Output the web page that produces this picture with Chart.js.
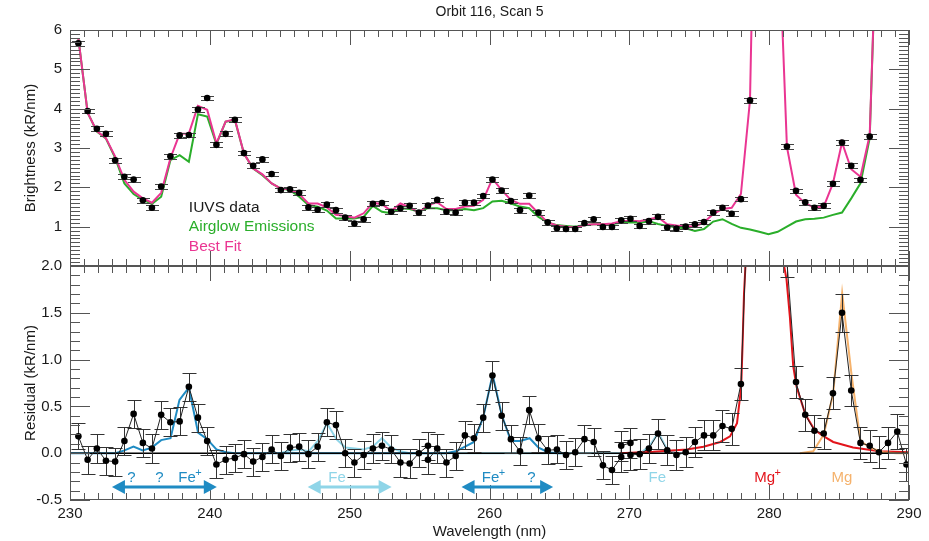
<!DOCTYPE html>
<html>
<head>
<meta charset="utf-8">
<title>Orbit 116, Scan 5</title>
<script src="https://cdn.jsdelivr.net/npm/chart.js@4/dist/chart.umd.min.js"></script>
<style>
  html, body { margin: 0; padding: 0; background: #fff; }
  #wrap { position: relative; width: 929px; height: 541px; }
  #wrap canvas { position: absolute; left: 0; top: 0; }
</style>
</head>
<body>
<div id="wrap">
  <canvas id="residualPanel" width="929" height="541"></canvas>
  <canvas id="brightnessPanel" width="929" height="541"></canvas>
</div>
<script>
// ---------------- data ----------------
// centre wavelength of each spectral bin (nm)
const wavelength = [
  230.60, 231.26, 231.92, 232.57, 233.23, 233.89, 234.55, 235.21, 235.86, 236.52,
  237.18, 237.84, 238.50, 239.15, 239.81, 240.47, 241.13, 241.79, 242.44, 243.10,
  243.76, 244.42, 245.08, 245.73, 246.39, 247.05, 247.71, 248.37, 249.02, 249.68,
  250.34, 251.00, 251.66, 252.31, 252.97, 253.63, 254.29, 254.95, 255.60, 256.26,
  256.92, 257.58, 258.24, 258.89, 259.55, 260.21, 260.87, 261.53, 262.18, 262.84,
  263.50, 264.16, 264.82, 265.47, 266.13, 266.79, 267.45, 268.11, 268.76, 269.42,
  270.08, 270.74, 271.40, 272.05, 272.71, 273.37, 274.03, 274.69, 275.34, 276.00,
  276.66, 277.32, 277.98, 278.63, 279.29, 279.95, 280.61, 281.27, 281.92, 282.58,
  283.24, 283.90, 284.56, 285.21, 285.87, 286.53, 287.19, 287.85, 288.50, 289.16,
  289.82
];

// IUVS brightness per bin (kR/nm); null where the point is above the plotted range
const brightness = [
  5.66, 3.94, 3.49, 3.36, 2.69, 2.27, 2.20, 1.67, 1.48, 2.02,
  2.79, 3.32, 3.33, 3.98, 4.27, 3.08, 3.36, 3.72, 2.87, 2.55,
  2.71, 2.34, 1.93, 1.95, 1.86, 1.49, 1.43, 1.56, 1.42, 1.23,
  1.08, 1.19, 1.58, 1.60, 1.38, 1.47, 1.53, 1.36, 1.54, 1.68,
  1.38, 1.36, 1.61, 1.61, 1.78, 2.20, 1.92, 1.65, 1.42, 1.79,
  1.36, 1.11, 0.96, 0.94, 0.94, 1.09, 1.19, 0.99, 0.99, 1.16,
  1.20, 1.02, 1.14, 1.25, 0.98, 0.95, 1.00, 1.06, 1.12, 1.36,
  1.48, 1.33, 1.70, 4.21, null, null, null, 3.04, 1.91, 1.62,
  1.48, 1.53, 2.09, 3.14, 2.55, 2.19, 3.29, null, null, null,
  null
];
const brightnessErr = 0.06;

// modelled airglow emissions (kR/nm), same bins
const airglow = [
  5.79, 3.90, 3.42, 3.24, 2.75, 2.10, 1.83, 1.68, 1.58, 1.76,
  2.69, 2.82, 2.65, 3.86, 3.80, 3.10, 3.67, 3.71, 2.86, 2.48,
  2.31, 2.10, 1.97, 1.93, 1.76, 1.55, 1.51, 1.41, 1.21, 1.21,
  1.21, 1.25, 1.53, 1.38, 1.34, 1.47, 1.45, 1.38, 1.47, 1.47,
  1.42, 1.42, 1.45, 1.42, 1.47, 1.64, 1.66, 1.59, 1.51, 1.47,
  1.25, 1.11, 1.04, 1.02, 1.00, 1.04, 1.06, 1.06, 1.07, 1.10,
  1.11, 1.10, 1.14, 1.07, 1.02, 0.98, 0.96, 0.89, 0.94, 1.13,
  1.19, 1.07, 0.97, 0.93, 0.87, 0.81, 0.87, 1.00, 1.13, 1.19,
  1.20, 1.23, 1.30, 1.36, 1.72, 2.10, 3.25, 10.5, 18.0
];

// best fit: airglow plus metal emission lines (kR/nm)
const bestFit = [
  5.79, 3.90, 3.43, 3.25, 2.78, 2.19, 1.89, 1.72, 1.61, 1.86,
  2.74, 3.36, 3.37, 4.07, 3.97, 3.12, 3.67, 3.73, 2.86, 2.48,
  2.33, 2.10, 1.97, 1.95, 1.83, 1.59, 1.59, 1.49, 1.30, 1.27,
  1.23, 1.34, 1.61, 1.57, 1.40, 1.59, 1.49, 1.36, 1.55, 1.62,
  1.45, 1.45, 1.51, 1.53, 1.68, 2.22, 1.93, 1.68, 1.58, 1.58,
  1.34, 1.11, 1.03, 1.00, 0.98, 1.04, 1.06, 1.06, 1.08, 1.14,
  1.15, 1.14, 1.19, 1.24, 1.06, 1.03, 1.02, 1.00, 1.11, 1.32,
  1.45, 1.48, 1.83, 4.22, 16.0, 25.0, 9.2, 3.03, 1.81, 1.59,
  1.49, 1.51, 2.10, 3.14, 2.46, 2.27, 3.33, 10.5, 18.0
];

// residual after removing airglow (kR/nm); overlapping detector bins appear twice
const residualWave = [
  230.60, 231.26, 231.92, 232.57, 233.23, 233.89, 234.55, 235.21, 235.86, 236.52,
  237.18, 237.84, 238.50, 239.15, 239.81, 240.47, 241.13, 241.79, 242.44, 243.10,
  243.76, 244.42, 245.08, 245.73, 246.39, 247.05, 247.71, 248.37, 249.02, 249.68,
  250.34, 251.00, 251.66, 252.31, 252.97, 253.63, 254.29, 254.95, 255.60, 255.60,
  256.26, 256.92, 257.58, 258.24, 258.89, 259.55, 260.21, 260.87, 261.53, 262.18,
  262.84, 263.50, 264.16, 264.82, 265.47, 266.13, 266.79, 267.45, 268.11, 268.76,
  269.42, 269.42, 270.08, 270.08, 270.74, 271.40, 272.05, 272.71, 273.37, 274.03,
  274.69, 275.34, 276.00, 276.66, 277.32, 277.98, 278.63, 279.29, 279.95, 280.61,
  281.27, 281.92, 282.58, 283.24, 283.90, 284.56, 285.21, 285.87, 286.53, 287.19,
  287.85, 288.50, 289.16, 289.82
];
const residual = [
  0.18, -0.07, 0.05, -0.08, -0.09, 0.13, 0.42, 0.11, 0.05, 0.41,
  0.33, 0.34, 0.71, 0.38, 0.13, -0.12, -0.07, -0.05, -0.01, -0.09,
  -0.04, 0.04, -0.03, 0.06, 0.07, -0.01, 0.07, 0.33, 0.30, 0.00,
  -0.10, -0.02, 0.05, 0.08, 0.04, -0.10, -0.11, 0.00, 0.08, -0.07,
  0.05, -0.10, -0.03, 0.19, 0.16, 0.38, 0.83, 0.40, 0.15, 0.02,
  0.46, 0.16, 0.03, 0.04, -0.02, 0.01, 0.15, 0.12, -0.13, -0.18,
  -0.04, 0.08, 0.11, -0.02, -0.01, 0.05, 0.21, 0.03, -0.02, 0.01,
  0.12, 0.19, 0.19, 0.29, 0.26, 0.74, 3.30, null, null, null,
  2.05, 0.76, 0.41, 0.24, 0.21, 0.64, 1.50, 0.67, 0.11, 0.08,
  0.01, 0.11, 0.23, -0.12
];
const residualErr = [
  0.14, 0.15, 0.15, 0.15, 0.15, 0.15, 0.15, 0.15, 0.15, 0.15,
  0.15, 0.15, 0.15, 0.15, 0.15, 0.15, 0.15, 0.15, 0.15, 0.15,
  0.15, 0.15, 0.15, 0.15, 0.15, 0.15, 0.15, 0.15, 0.15, 0.15,
  0.15, 0.15, 0.15, 0.15, 0.15, 0.15, 0.15, 0.15, 0.15, 0.15,
  0.15, 0.15, 0.15, 0.15, 0.15, 0.15, 0.15, 0.15, 0.15, 0.15,
  0.15, 0.15, 0.15, 0.15, 0.15, 0.15, 0.15, 0.15, 0.15, 0.15,
  0.16, 0.16, 0.16, 0.16, 0.16, 0.16, 0.16, 0.16, 0.16, 0.16,
  0.16, 0.16, 0.16, 0.17, 0.17, 0.17, 0.17, 0.17, 0.17, 0.17,
  0.17, 0.17, 0.17, 0.17, 0.17, 0.17, 0.20, 0.17, 0.17, 0.17,
  0.17, 0.17, 0.19, 0.18
];

// fitted line profiles (kR/nm)
const feIonWave = [
  230.0, 233.25, 233.90, 234.54, 235.20, 235.85, 236.52, 237.19, 237.83, 238.50,
  239.16, 239.81, 240.47, 241.14, 241.81, 256.90, 257.58, 258.25, 258.89, 259.56,
  260.22, 260.87, 261.53, 262.20, 262.87, 263.51, 264.18, 264.84, 265.50
];
const feIonFit = [
  0, 0, 0.03, 0.07, 0.03, 0.06, 0.14, 0.16, 0.57, 0.70,
  0.22, 0.15, 0.04, 0.01, 0, 0, 0.02, 0.07, 0.12, 0.39,
  0.84, 0.41, 0.13, 0.13, 0.16, 0.06, 0.01, 0, 0
];
const feWave = [
  245.00, 245.76, 246.41, 247.07, 247.72, 248.38, 249.05, 249.69, 250.36, 251.00,
  251.64, 252.31, 252.98, 253.62, 254.29, 270.10, 270.76, 271.43, 272.07, 272.74,
  273.38, 274.10
];
const feFit = [
  0, 0.03, 0.04, 0.02, 0.13, 0.32, 0.15, 0.06, 0.05, 0.04,
  0.07, 0.16, 0.06, 0.02, 0, 0, 0, 0.075, 0.22, 0.03,
  0, 0
];
const mgIonWave = [
  269.33, 271.70, 274.10, 275.30, 276.50, 277.20, 277.70, 278.00, 278.10, 278.20,
  278.30, 278.60, 280.60, 281.08, 281.24, 281.48, 281.72, 281.96, 282.32, 282.60,
  283.24, 283.91, 284.58, 286.00, 287.90, 290.00
];
const mgIonFit = [
  0, 0.015, 0.04, 0.07, 0.12, 0.18, 0.32, 0.71, 1.17, 1.70,
  1.99, 3.5, 3.5, 1.99, 1.86, 1.46, 0.93, 0.71, 0.54, 0.41,
  0.25, 0.18, 0.12, 0.06, 0.02, 0.01
];
const mgWave = [282.20, 283.15, 283.91, 284.58, 285.22, 285.89, 286.53, 287.20, 288.15, 289.10, 290.00];
const mgFit  = [0, 0.02, 0.20, 0.64, 1.71, 0.84, 0.13, 0.06, 0.01, 0, 0];

// axis ticks
const waveTicks = [230, 240, 250, 260, 270, 280, 290];
const brightnessTicks = [1, 2, 3, 4, 5, 6];
const residualTicks = [-0.5, 0.0, 0.5, 1.0, 1.5, 2.0];

// ---------------- styling ----------------
const FONT = "'Liberation Sans', Arial, Helvetica, sans-serif";
const TEXT = '#1a1a1a';
const AXIS = '#555555';
const PINK = '#ea3592';
const GREEN = '#2aae2a';
const FE_ION = '#1f8bc3';
const FE = '#8fd5e8';
const MG_ION = '#e3141b';
const MG = '#f5b26c';

Chart.defaults.font.family = FONT;
Chart.defaults.color = TEXT;
Chart.defaults.animation = false;

const toPoints = (xs, ys) => ys.map((y, i) => ({ x: xs[i], y: y }));

// frame box with inward minor/major ticks on all four sides
const frameTicks = {
  id: 'frameTicks',
  afterDatasetsDraw(chart, args, o) {
    const { ctx, chartArea: a } = chart;
    const xs = chart.scales.x, ys = chart.scales.y;
    ctx.save();
    ctx.strokeStyle = AXIS;
    ctx.lineWidth = 1;
    ctx.beginPath();
    for (let w = 230; w <= 290; w++) {
      const px = Math.round(xs.getPixelForValue(w)) + 0.5;
      const len = (w % 10 === 0) ? 15 : 7;
      ctx.moveTo(px, a.top); ctx.lineTo(px, a.top + len);
      ctx.moveTo(px, a.bottom); ctx.lineTo(px, a.bottom - len);
    }
    const steps = Math.round((o.yMax - o.yMin) * 10);
    for (let k = 0; k <= steps; k++) {
      const v = o.yMin + k / 10;
      const len = (k % o.majorEvery === 0) ? 20 : 10;
      const py = Math.round(ys.getPixelForValue(v)) + 0.5;
      ctx.moveTo(a.left, py); ctx.lineTo(a.left + len, py);
      ctx.moveTo(a.right, py); ctx.lineTo(a.right - len, py);
    }
    ctx.stroke();
    ctx.strokeRect(Math.round(a.left) + 0.5, Math.round(a.top) + 0.5,
                   Math.round(a.right - a.left) - 1, Math.round(a.bottom - a.top) - 1);
    ctx.restore();
  }
};

// vertical error bars with caps, drawn just before the owning dataset
const errorBars = {
  id: 'errorBars',
  beforeDatasetDraw(chart, args) {
    const ds = chart.data.datasets[args.index];
    if (ds.errors === undefined) return;
    const { ctx, chartArea: a } = chart;
    const xs = chart.scales.x, ys = chart.scales.y;
    ctx.save();
    ctx.beginPath();
    ctx.rect(a.left, a.top, a.right - a.left, a.bottom - a.top);
    ctx.clip();
    ctx.strokeStyle = ds.errorColor;
    ctx.lineWidth = 1;
    ctx.beginPath();
    ds.data.forEach((p, i) => {
      if (p.y === null) return;
      const e = Array.isArray(ds.errors) ? ds.errors[i] : ds.errors;
      const px = Math.round(xs.getPixelForValue(p.x)) + 0.5;
      const yHi = Math.round(ys.getPixelForValue(p.y + e)) + 0.5;
      const yLo = Math.round(ys.getPixelForValue(p.y - e)) + 0.5;
      const hw = ds.capHalfWidth;
      ctx.moveTo(px, yHi); ctx.lineTo(px, yLo);
      ctx.moveTo(px - hw, yHi); ctx.lineTo(px + hw, yHi);
      ctx.moveTo(px - hw, yLo); ctx.lineTo(px + hw, yLo);
    });
    ctx.stroke();
    ctx.restore();
  }
};

// text with an optional raised superscript, centred on x
function drawTag(ctx, text, sup, x, y, color) {
  ctx.save();
  ctx.fillStyle = color;
  ctx.textBaseline = 'middle';
  ctx.textAlign = 'left';
  ctx.font = '15px ' + FONT;
  const w1 = ctx.measureText(text).width;
  ctx.font = '11px ' + FONT;
  const w2 = sup ? ctx.measureText(sup).width : 0;
  const x0 = x - (w1 + w2) / 2;
  ctx.font = '15px ' + FONT;
  ctx.fillText(text, x0, y);
  if (sup) {
    ctx.font = '11px ' + FONT;
    ctx.fillText(sup, x0 + w1 - 0.5, y - 5);
  }
  ctx.restore();
}

function drawArrow(ctx, x1, x2, y, color) {
  const head = 13, half = 7;
  ctx.save();
  ctx.strokeStyle = color;
  ctx.fillStyle = color;
  ctx.lineWidth = 3;
  ctx.beginPath();
  ctx.moveTo(x1 + head - 1, y); ctx.lineTo(x2 - head + 1, y);
  ctx.stroke();
  ctx.beginPath();
  ctx.moveTo(x1, y); ctx.lineTo(x1 + head, y - half); ctx.lineTo(x1 + head, y + half);
  ctx.closePath(); ctx.fill();
  ctx.beginPath();
  ctx.moveTo(x2, y); ctx.lineTo(x2 - head, y - half); ctx.lineTo(x2 - head, y + half);
  ctx.closePath(); ctx.fill();
  ctx.restore();
}

// legend entries of the brightness panel, placed in data units
const legendEntries = [
  { text: 'IUVS data', color: TEXT },
  { text: 'Airglow Emissions', color: GREEN },
  { text: 'Best Fit', color: PINK }
];
const legendAnchor = { wave: 238.5, levels: [1.47, 0.99, 0.48] };

const legendText = {
  id: 'legendText',
  afterDatasetsDraw(chart) {
    const { ctx } = chart;
    const xs = chart.scales.x, ys = chart.scales.y;
    ctx.save();
    ctx.font = '15.5px ' + FONT;
    ctx.textAlign = 'left';
    ctx.textBaseline = 'middle';
    legendEntries.forEach((e, i) => {
      ctx.fillStyle = e.color;
      ctx.fillText(e.text, xs.getPixelForValue(legendAnchor.wave), ys.getPixelForValue(legendAnchor.levels[i]));
    });
    ctx.restore();
  }
};

// line identifications in the residual panel
const spanArrows = [
  { from: 233.0, to: 240.5, color: FE_ION },
  { from: 247.0, to: 253.0, color: FE },
  { from: 258.0, to: 264.55, color: FE_ION }
];
const lineTags = [
  { text: '?', sup: '', at: 234.4, color: FE_ION },
  { text: '?', sup: '', at: 236.4, color: FE_ION },
  { text: 'Fe', sup: '+', at: 238.6, color: FE_ION },
  { text: 'Fe', sup: '', at: 249.1, color: FE },
  { text: 'Fe', sup: '+', at: 260.3, color: FE_ION },
  { text: '?', sup: '', at: 263.0, color: FE_ION },
  { text: 'Fe', sup: '', at: 272.0, color: FE },
  { text: 'Mg', sup: '+', at: 279.9, color: MG_ION },
  { text: 'Mg', sup: '', at: 285.2, color: MG }
];
const arrowLevel = -0.36;
const tagLevel = -0.26;

const lineIds = {
  id: 'lineIds',
  afterDatasetsDraw(chart) {
    const { ctx } = chart;
    const xs = chart.scales.x, ys = chart.scales.y;
    spanArrows.forEach(s => drawArrow(ctx, xs.getPixelForValue(s.from), xs.getPixelForValue(s.to),
                                       ys.getPixelForValue(arrowLevel), s.color));
    lineTags.forEach(t => drawTag(ctx, t.text, t.sup, xs.getPixelForValue(t.at),
                                  ys.getPixelForValue(tagLevel), t.color));
  }
};

const lineStyle = (color, width) => ({
  type: 'line', borderColor: color, borderWidth: width, pointRadius: 0,
  tension: 0, fill: false, spanGaps: false
});

// ---------------- brightness panel ----------------
new Chart(document.getElementById('brightnessPanel'), {
  type: 'line',
  data: {
    datasets: [
      Object.assign(lineStyle(GREEN, 2), { label: 'Airglow Emissions', data: toPoints(wavelength, airglow), order: 3 }),
      Object.assign(lineStyle(PINK, 2), { label: 'Best Fit', data: toPoints(wavelength, bestFit), order: 2 }),
      {
        type: 'line', label: 'IUVS data', data: toPoints(wavelength, brightness),
        showLine: false, pointRadius: 3.3, pointBackgroundColor: '#000', pointBorderWidth: 0,
        pointBorderColor: '#000', order: 1,
        errors: brightnessErr, errorColor: '#444', capHalfWidth: 6.5
      }
    ]
  },
  options: {
    responsive: false,
    events: [],
    layout: { padding: { left: 0, right: 20, top: 0, bottom: 275 } },
    plugins: {
      legend: { display: false },
      tooltip: { enabled: false },
      title: {
        display: true, text: 'Orbit 116, Scan 5', fullSize: false,
        color: TEXT, font: { size: 14, weight: 'normal' },
        padding: { top: 4, bottom: 9.2 }
      },
      frameTicks: { yMin: 0, yMax: 6, majorEvery: 10 }
    },
    scales: {
      x: { type: 'linear', min: 230, max: 290, display: false },
      y: {
        type: 'linear', min: 0, max: 6,
        grid: { display: false, drawTicks: false },
        border: { display: false },
        afterBuildTicks: s => { s.ticks = brightnessTicks.map(v => ({ value: v })); },
        ticks: { padding: 8, font: { size: 15 }, color: TEXT, callback: v => String(v) },
        title: { display: true, text: 'Brightness (kR/nm)', color: TEXT, font: { size: 15 }, padding: { top: 22, bottom: 0 } },
        afterFit: s => { s.width = 70; }
      }
    }
  },
  plugins: [errorBars, frameTicks, legendText]
});

// ---------------- residual panel ----------------
new Chart(document.getElementById('residualPanel'), {
  type: 'line',
  data: {
    datasets: [
      Object.assign(lineStyle(FE, 2), { label: 'Fe', data: toPoints(feWave, feFit), order: 7 }),
      Object.assign(lineStyle(FE_ION, 2), { label: 'Fe+', data: toPoints(feIonWave, feIonFit), order: 6 }),
      Object.assign(lineStyle(MG_ION, 2), { label: 'Mg+', data: toPoints(mgIonWave, mgIonFit), order: 5 }),
      Object.assign(lineStyle(MG, 2), { label: 'Mg', data: toPoints(mgWave, mgFit), order: 4 }),
      Object.assign(lineStyle('#000', 1.5), { label: 'zero', data: [{ x: 230, y: 0 }, { x: 290, y: 0 }], order: 3 }),
      {
        type: 'line', label: 'Residual', data: toPoints(residualWave, residual),
        borderColor: '#222', borderWidth: 1, tension: 0, spanGaps: false,
        pointRadius: 3.3, pointBackgroundColor: '#000', pointBorderWidth: 0, pointBorderColor: '#000',
        order: 1, errors: residualErr, errorColor: '#333', capHalfWidth: 7
      }
    ]
  },
  options: {
    responsive: false,
    events: [],
    layout: { padding: { left: 0, right: 20, top: 266, bottom: 0 } },
    plugins: {
      legend: { display: false },
      tooltip: { enabled: false },
      frameTicks: { yMin: -0.5, yMax: 2.0, majorEvery: 5 }
    },
    scales: {
      x: {
        type: 'linear', min: 230, max: 290,
        grid: { display: false, drawTicks: false },
        border: { display: false },
        afterBuildTicks: s => { s.ticks = waveTicks.map(v => ({ value: v })); },
        ticks: { padding: 5, font: { size: 15 }, color: TEXT, maxRotation: 0, autoSkip: false, callback: v => String(v) },
        title: { display: true, text: 'Wavelength (nm)', color: TEXT, font: { size: 15 }, padding: { top: 0, bottom: 0 } },
        afterFit: s => { s.height = 41; }
      },
      y: {
        type: 'linear', min: -0.5, max: 2.0,
        grid: { display: false, drawTicks: false },
        border: { display: false },
        afterBuildTicks: s => { s.ticks = residualTicks.map(v => ({ value: v })); },
        ticks: { padding: 8, font: { size: 15 }, color: TEXT, callback: v => v.toFixed(1) },
        title: { display: true, text: 'Residual (kR/nm)', color: TEXT, font: { size: 15 }, padding: { top: 22, bottom: 0 } },
        afterFit: s => { s.width = 70; }
      }
    }
  },
  plugins: [errorBars, frameTicks, lineIds]
});
</script>
</body>
</html>
